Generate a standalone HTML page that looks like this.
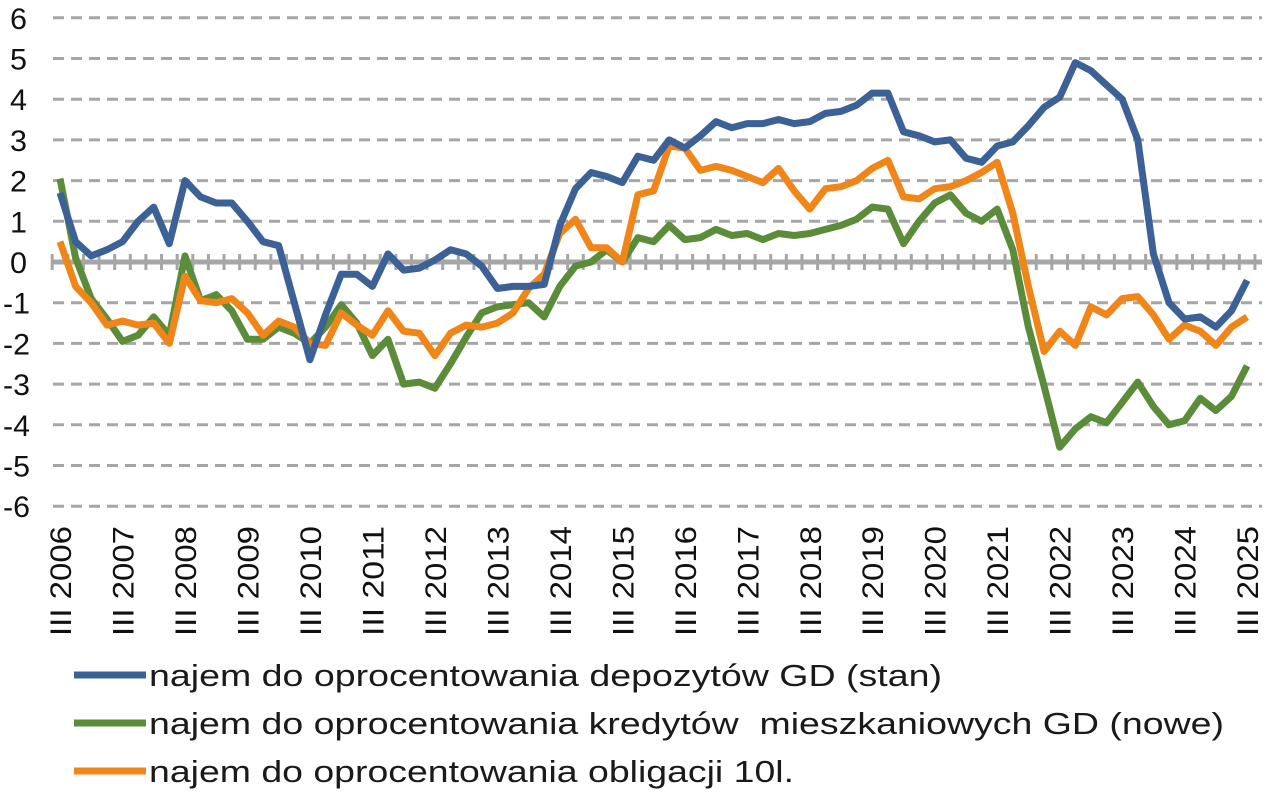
<!DOCTYPE html>
<html><head><meta charset="utf-8"><style>
html,body{margin:0;padding:0;background:#fff;}
svg{display:block;font-family:"Liberation Sans",Arial,sans-serif;}
</style></head><body>
<svg id="c" width="1280" height="806" viewBox="0 0 1280 806" xmlns="http://www.w3.org/2000/svg"></svg>
<script>
const svg=document.getElementById('c');
const NS='http://www.w3.org/2000/svg';
function el(t,a,txt){const e=document.createElementNS(NS,t);for(const k in a)e.setAttribute(k,a[k]);if(txt!==undefined)e.textContent=txt;svg.appendChild(e);return e;}
const Y=v=>262-v*40.7, X=i=>60+i*15.62;
for(let v=-6;v<=6;v++){
  if(v!==0) el('line',{x1:53,x2:1262,y1:Y(v),y2:Y(v),stroke:'#a6a6a6','stroke-width':3,'stroke-dasharray':'11 7'});
  const t=String(v);
  el('text',{x:v<0?3:10,y:Y(v)+11,'font-size':30,fill:'#111',textLength:v<0?27:17,lengthAdjust:'spacingAndGlyphs'},t);
}
el('line',{x1:53,x2:1262,y1:Y(0),y2:Y(0),stroke:'#a6a6a6','stroke-width':5});
for(let i=0;i<=78;i++){const x=52.2+i*15.62; if(x>1262)break; el('line',{x1:x,x2:x,y1:Y(0)-8,y2:Y(0)+8,stroke:'#a6a6a6','stroke-width':3});}
for(let y=0;y<=19;y++){const x=X(y*4);
  el('text',{transform:`translate(${x+11},636) rotate(-90)`,'font-size':30,fill:'#111',textLength:110,lengthAdjust:'spacingAndGlyphs'},'III '+(2006+y));}
const blue=[1.7,0.5,0.15,0.3,0.5,1.0,1.35,0.45,2.0,1.6,1.45,1.45,1.0,0.5,0.4,-1.0,-2.4,-1.3,-0.3,-0.3,-0.6,0.2,-0.2,-0.15,0.05,0.3,0.2,-0.1,-0.65,-0.6,-0.6,-0.55,0.9,1.8,2.2,2.1,1.95,2.6,2.5,3.0,2.8,3.1,3.45,3.3,3.4,3.4,3.5,3.4,3.45,3.65,3.7,3.85,4.15,4.15,3.2,3.1,2.95,3.0,2.55,2.45,2.85,2.95,3.35,3.8,4.05,4.9,4.7,4.35,4.0,3.0,0.2,-1.0,-1.4,-1.35,-1.6,-1.2,-0.45];
const green=[2.05,0.1,-0.9,-1.4,-1.95,-1.8,-1.35,-1.8,0.15,-0.95,-0.8,-1.2,-1.9,-1.9,-1.6,-1.75,-2.0,-1.6,-1.05,-1.5,-2.3,-1.9,-3.0,-2.95,-3.1,-2.5,-1.85,-1.25,-1.1,-1.05,-1.0,-1.35,-0.6,-0.1,0.0,0.3,0.0,0.6,0.5,0.9,0.55,0.6,0.8,0.65,0.7,0.55,0.7,0.65,0.7,0.8,0.9,1.05,1.35,1.3,0.45,1.0,1.45,1.65,1.2,1.0,1.3,0.3,-1.6,-3.05,-4.55,-4.1,-3.8,-3.95,-3.45,-2.95,-3.55,-4.0,-3.9,-3.35,-3.65,-3.3,-2.55];
const orange=[0.5,-0.6,-1.0,-1.55,-1.45,-1.55,-1.5,-2.0,-0.35,-0.95,-1.0,-0.9,-1.25,-1.8,-1.45,-1.6,-2.0,-2.05,-1.25,-1.55,-1.8,-1.2,-1.7,-1.75,-2.3,-1.75,-1.55,-1.6,-1.5,-1.25,-0.65,-0.3,0.7,1.05,0.35,0.35,0.0,1.65,1.75,2.85,2.8,2.25,2.35,2.25,2.1,1.95,2.3,1.75,1.3,1.8,1.85,2.0,2.3,2.5,1.6,1.55,1.8,1.85,2.0,2.2,2.45,1.2,-0.6,-2.2,-1.7,-2.05,-1.1,-1.3,-0.9,-0.85,-1.3,-1.9,-1.55,-1.7,-2.05,-1.6,-1.35];
const cols={g:'#5b8c3a',o:'#f0861a',b:'#3b6196'};
function line(d,c){el('polyline',{points:d.map((v,i)=>X(i).toFixed(1)+','+Y(v).toFixed(1)).join(' '),fill:'none',stroke:c,'stroke-width':7,'stroke-linejoin':'round'});}
line(green,cols.g);line(orange,cols.o);line(blue,cols.b);
const L=[[cols.b,675,'najem do oprocentowania depozytów GD (stan)',793],[cols.g,723,'najem do oprocentowania kredytów  mieszkaniowych GD (nowe)',1075],[cols.o,771,'najem do oprocentowania obligacji 10l.',645]];
for(const [c,y,t,w] of L){el('line',{x1:74,x2:146,y1:y,y2:y,stroke:c,'stroke-width':7});
 const e=el('text',{x:149,y:y+11,'font-size':31,fill:'#1a1a1a',textLength:w,lengthAdjust:'spacingAndGlyphs'},t);e.setAttribute('xml:space','preserve');e.style.whiteSpace='pre';}
</script>
</body></html>
